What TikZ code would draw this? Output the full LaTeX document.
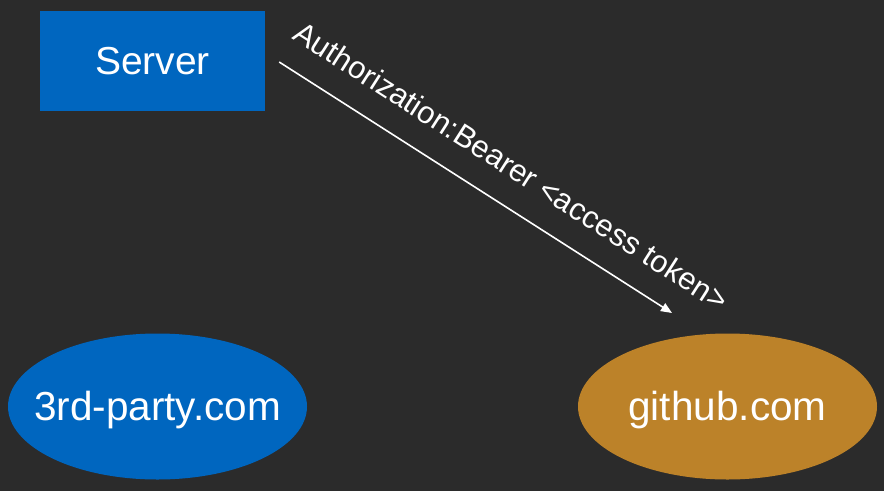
\documentclass[tikz,border=0pt]{standalone}
\usepackage{fontspec}
\setmainfont{Liberation Sans}
\usetikzlibrary{arrows.meta,shapes.geometric}
\definecolor{bg}{HTML}{2B2B2B}
\definecolor{srvblue}{HTML}{0066BF}
\definecolor{gold}{HTML}{BC8229}
\tikzset{
  box/.style={fill=srvblue, draw=none, minimum width=225pt, minimum height=100pt, inner sep=0pt, text=white, font=\fontsize{39}{42}\selectfont},
  site/.style={ellipse, draw=none, minimum width=299pt, minimum height=146pt, inner xsep=-40pt, inner ysep=0pt, text=white, font=\fontsize{40.5}{44}\selectfont},
  sitetext/.style={text=white, inner sep=0pt, font=\fontsize{40.5}{44}\selectfont},
  flow/.style={draw=white, line width=1.6pt, -{Triangle[length=11pt,width=9pt]}},
  flowlabel/.style={text=white, font=\fontsize{31}{34}\selectfont, sloped}
}
\begin{document}
\begin{tikzpicture}[x=1pt,y=-1pt]
  \fill[bg] (0,0) rectangle (884,491);
  \useasboundingbox (0,0) rectangle (884,491);
  \node[box] (server) at (152.5,61) {Server};
  \node[site, fill=srvblue] (third) at (157.5,406.5) {};
  \node[sitetext] (thirdtext) at ([yshift=-4]third.center) {3rd-party.com};
  \node[site, fill=gold] (github) at (727.5,406.5) {};
  \node[sitetext] (githubtext) at ([yshift=-4]github.center) {github.com};
  \draw[flow] ([shift={(14,1)}]server.east) -- node[flowlabel, pos=0.54, above=22pt] (lbl) {Authorization:Bearer <access token>} ([shift={(-55.5,-93.5)}]github.center);
\end{tikzpicture}
\end{document}
